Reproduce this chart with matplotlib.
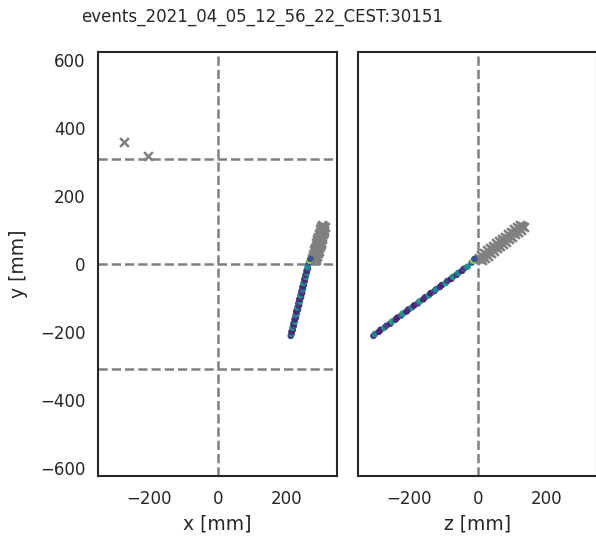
import numpy as np
import matplotlib
matplotlib.use('Agg')
import matplotlib.pyplot as plt
import seaborn as sns

sns.set_style('white')
plt.rcParams['font.family'] = ['DejaVu Sans']

title = 'events_2021_04_05_12_56_22_CEST:30151'

# reconstructed track hits (mm), colour = hit amplitude
trk_x = [213, 216, 215, 219, 218, 222, 221, 225, 224, 228, 227, 231, 229, 234, 232, 237, 235,
         240, 238, 243, 241, 246, 244, 249, 247, 251, 250, 254, 253, 257, 256, 260, 259, 263, 262,
         266, 268, 270]
trk_y = [-212, -206, -200, -194, -188, -182, -176, -170, -164, -158, -152, -146, -140, -134, -128,
         -122, -116, -110, -104, -98, -92, -86, -80, -74, -68, -62, -56, -50, -44, -38, -32, -26,
         -20, -14, -8, 4, 10, 15]
trk_z = [-305, -300, -289, -284, -273, -267, -256, -251, -240, -235, -224, -219, -208, -203, -192,
         -186, -175, -170, -159, -154, -143, -138, -127, -122, -111, -105, -94, -89, -78, -73, -62,
         -57, -46, -41, -30, -18, -14, -10]
trk_c = [0.2, 0.45, 0.15, 0.1, 0.5, 0.2, 0.1, 0.55, 0.15, 0.1, 0.3, 0.5, 0.1, 0.15, 0.45, 0.1,
         0.2, 0.55, 0.1, 0.15, 0.5, 0.1, 0.2, 0.45, 0.15, 0.1, 0.55, 0.2, 0.1, 0.5, 0.15, 0.45,
         0.1, 0.2, 0.5, 0.3, 0.85, 0.25]

# unassigned hits
bg_x = [281, 283, 285, 287, 289, 291, 293, 295, 296, 298, 300, 302, 304, 306, 308,
        286, 288, 290, 292, 294, 296, 298, 300, 301, 303, 305, 307, 309, 311, 313,
        276, 278, 280, 282, 284, 286, 288, 290, 291, 293, 295, 297, 299, 301, 303]
bg_y = [15, 22, 29, 36, 43, 50, 57, 64, 70, 77, 84, 91, 98, 105, 112,
        11, 18, 25, 32, 39, 46, 53, 60, 66, 73, 80, 87, 94, 101, 108,
        19, 26, 33, 40, 47, 54, 61, 68, 74, 81, 88, 95, 102, 109, 116]
bg_z = [6, 15, 23, 32, 41, 50, 58, 67, 76, 84, 93, 102, 111, 119, 128,
        12, 21, 29, 38, 47, 56, 64, 73, 82, 90, 99, 108, 117, 125, 134,
        2, 9, 17, 26, 35, 44, 52, 61, 70, 78, 87, 96, 105, 113, 122]
# far-away hits seen only in the x-y view
far_x = [-274, -204]
far_y = [359, 318]

# detector segment boundaries
y_bounds = [-310, 0, 310]

fig = plt.figure(figsize=(5.96, 5.40), dpi=100)
ax1 = fig.add_axes([98 / 596, 64 / 540, 239 / 596, 424 / 540])
ax2 = fig.add_axes([358 / 596, 64 / 540, 239 / 596, 424 / 540], sharey=ax1)

for ax in (ax1, ax2):
    ax.axvline(0, color='gray', ls='--', lw=1.8, zorder=1)
for yb in y_bounds:
    ax1.axhline(yb, color='gray', ls='--', lw=1.8, zorder=1)

ax1.scatter(far_x, far_y, marker='x', color='gray', s=40, lw=1.8, zorder=2)
ax1.scatter(bg_x, bg_y, marker='x', color='gray', s=40, lw=1.8, zorder=2)
ax1.scatter(trk_x, trk_y, c=trk_c, cmap='viridis', vmin=0, vmax=1, s=14, zorder=3)

ax2.scatter(bg_z, bg_y, marker='x', color='gray', s=40, lw=1.8, zorder=2)
ax2.scatter(trk_z, trk_y, c=trk_c, cmap='viridis', vmin=0, vmax=1, s=14, zorder=3)

ax1.set_xlim(-350, 348)
ax2.set_xlim(-350, 348)
ax1.set_ylim(-625, 625)
ax1.set_xticks([-200, 0, 200])
ax2.set_xticks([-200, 0, 200])
ax1.set_yticks([-600, -400, -200, 0, 200, 400, 600])
plt.setp(ax2.get_yticklabels(), visible=False)

for ax in (ax1, ax2):
    ax.tick_params(labelsize=12, pad=9, length=0)
    ax.tick_params(axis='x', pad=10)
    for sp in ax.spines.values():
        sp.set_linewidth(1.5)

ax1.set_xlabel('x [mm]', fontsize=13.5, labelpad=5)
ax2.set_xlabel('z [mm]', fontsize=13.5, labelpad=5)
ax1.set_ylabel('y [mm]', fontsize=13.5, labelpad=9)

fig.suptitle(title, x=262 / 596, y=0.969, va='center', fontsize=12)

fig.savefig('out.png', dpi=100)
